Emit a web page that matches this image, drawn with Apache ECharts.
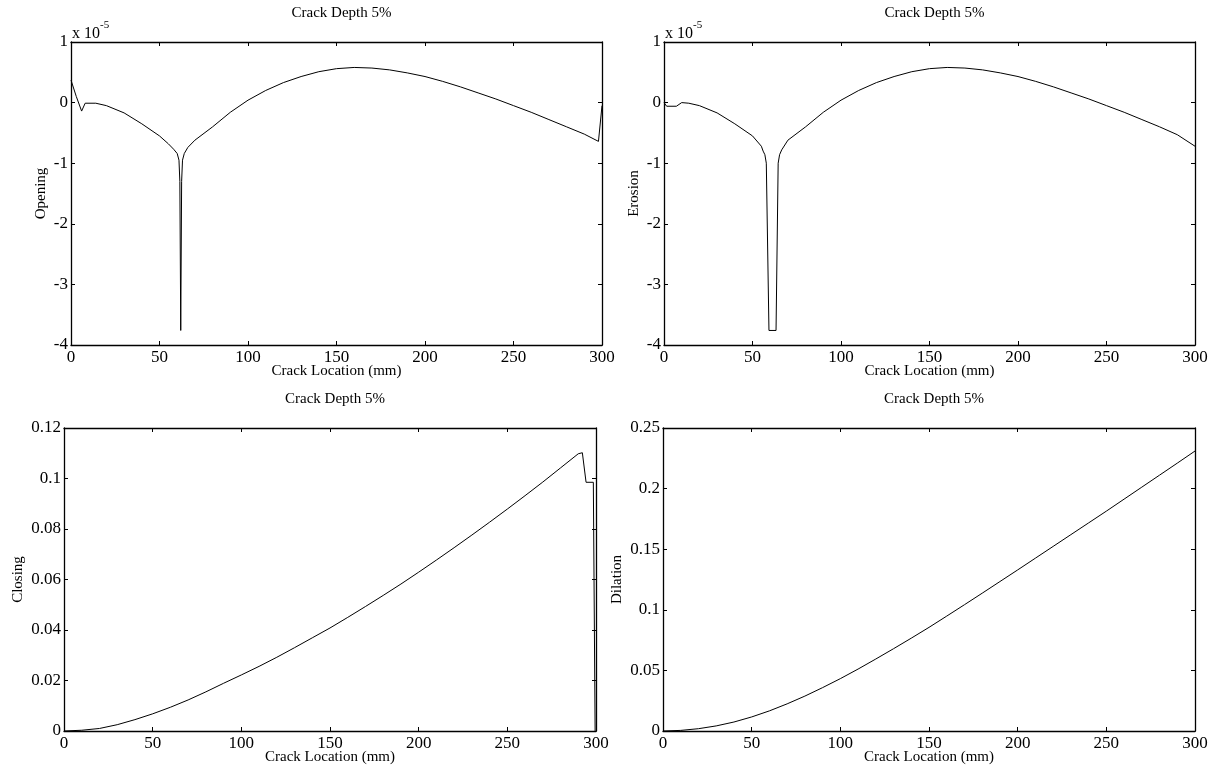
<!DOCTYPE html>
<html><head><meta charset="utf-8">
<script src="https://cdn.jsdelivr.net/npm/echarts@6/dist/echarts.min.js"></script>
<style>html,body{margin:0;padding:0;background:#fff}#c{width:1211px;height:769px}</style>
</head><body><div id="c"></div>
<script>
// Opening (x 1e-5)
const openingX = [0,3,6,8,14,20,30,40,50,55,58,60,61,61.5,62,62.5,63,64,66,70,80,90,100,110,120,130,140,150,160,170,180,190,200,210,220,230,240,250,260,270,280,290,298,300];
const openingY = [0.37,0.1,-0.14,-0.01,-0.01,-0.05,-0.17,-0.35,-0.55,-0.68,-0.77,-0.84,-0.95,-1.3,-3.76,-1.3,-0.95,-0.84,-0.74,-0.62,-0.4,-0.16,0.04,0.2,0.33,0.43,0.51,0.56,0.58,0.57,0.54,0.49,0.43,0.35,0.26,0.16,0.06,-0.05,-0.16,-0.28,-0.40,-0.52,-0.64,-0.05];
// Erosion (x 1e-5)
const erosionX = [0,1.5,7,10,14,20,30,40,50,55,56,57,57.8,59.3,63.3,64.5,65.3,66.5,70,80,90,100,110,120,130,140,150,160,170,180,190,200,210,220,230,240,250,260,270,280,290,300];
const erosionY = [0,-0.06,-0.06,0,-0.01,-0.05,-0.17,-0.35,-0.55,-0.72,-0.8,-0.86,-1.0,-3.76,-3.76,-1.0,-0.86,-0.78,-0.62,-0.4,-0.16,0.04,0.2,0.33,0.43,0.51,0.56,0.58,0.57,0.54,0.49,0.43,0.35,0.26,0.16,0.06,-0.05,-0.16,-0.28,-0.40,-0.53,-0.72];
// Closing
const closingX = [0,10,20,30,40,50,60,70,80,90,100,110,120,130,140,150,160,170,180,190,200,210,220,230,240,250,260,270,280,290,292.3,294.4,298.5,299.5];
const closingY = [0,0.0003,0.001,0.0025,0.0045,0.0068,0.0094,0.0123,0.0155,0.0189,0.0222,0.0256,0.0292,0.033,0.0369,0.0408,0.045,0.0493,0.0537,0.0582,0.0629,0.0677,0.0726,0.0776,0.0827,0.0879,0.0932,0.0986,0.1042,0.1098,0.1102,0.0985,0.0985,0];
// Dilation
const dilationX = [0,10,20,30,40,50,60,70,80,90,100,110,120,130,140,150,160,170,180,190,200,210,220,230,240,250,260,270,280,290,300];
const dilationY = [0,0.0005,0.0019,0.0042,0.0074,0.0116,0.0166,0.0224,0.0288,0.0358,0.0432,0.0511,0.0594,0.0679,0.0766,0.0855,0.0948,0.1042,0.1137,0.1233,0.1329,0.1426,0.1523,0.162,0.1717,0.1814,0.1913,0.2012,0.2111,0.221,0.231];
const xTicks = [0,50,100,150,200,250,300];
const titles = ['Crack Depth 5%','Crack Depth 5%','Crack Depth 5%','Crack Depth 5%'];
const yNames = ['Opening','Erosion','Closing','Dilation'];
const xName = 'Crack Location (mm)';

const pair = (xs, ys) => xs.map((x, i) => [x, ys[i]]);
const FONT = 'Liberation Serif';
const grids = [
  {left:71, top:42, width:531, height:303},
  {left:664, top:42, width:531, height:303},
  {left:64, top:428, width:532, height:303},
  {left:663, top:428, width:532, height:303}
];
const yRanges = [[-4,1,1],[-4,1,1],[0,0.12,0.02],[0,0.25,0.05]];
const yGaps = [22,22,38,38];
const axLine = {show:true, onZero:false, lineStyle:{color:'#000', width:1.3}};
const tick = {show:true, inside:true, length:4, lineStyle:{color:'#000', width:1}};
const lab = {color:'#000', fontFamily:FONT, fontSize:17};
let xAxis = [], yAxis = [], series = [];
grids.forEach((g, i) => {
  xAxis.push({type:'value', gridIndex:i, position:'bottom', min:0, max:300, interval:50,
    axisLine:axLine, axisTick:tick, splitLine:{show:false}, axisLabel:{...lab, margin:4},
    name:xName, nameLocation:'middle', nameGap:19, nameMoveOverlap:false, nameTextStyle:{color:'#000', fontFamily:FONT, fontSize:15}});
  xAxis.push({type:'value', gridIndex:i, position:'top', min:0, max:300, interval:50,
    axisLine:axLine, axisTick:tick, splitLine:{show:false}, axisLabel:{show:false}});
  const r = yRanges[i];
  yAxis.push({type:'value', gridIndex:i, position:'left', min:r[0], max:r[1], interval:r[2],
    axisLine:axLine, axisTick:tick, splitLine:{show:false}, axisLabel:{...lab, margin:3},
    name:yNames[i], nameLocation:'middle', nameGap:yGaps[i], nameMoveOverlap:false, nameTextStyle:{color:'#000', fontFamily:FONT, fontSize:15}});
  yAxis.push({type:'value', gridIndex:i, position:'right', min:r[0], max:r[1], interval:r[2],
    axisLine:axLine, axisTick:tick, splitLine:{show:false}, axisLabel:{show:false}});
});
const datas = [pair(openingX, openingY), pair(erosionX, erosionY), pair(closingX, closingY), pair(dilationX, dilationY)];
datas.forEach((d, i) => {
  series.push({type:'line', xAxisIndex:2*i, yAxisIndex:2*i, data:d, showSymbol:false, symbol:'none',
    lineStyle:{color:'#000', width:1}, animation:false});
});
const title = grids.map((g, i) => ({text:titles[i], left:g.left + g.width/2, top: g.top - 41, textAlign:'center',
  textStyle:{color:'#000', fontFamily:FONT, fontSize:15, fontWeight:'normal'}}));
const expo = [0,1].map(i => ({type:'text', left:grids[i].left + 1, top:20,
  style:{text:'{a|x 10}{b|-5}', rich:{a:{fontFamily:FONT, fontSize:16, fill:'#000', padding:[6,0,0,0]}, b:{fontFamily:FONT, fontSize:11, fill:'#000', verticalAlign:'top'}}}}));
const chart = echarts.init(document.getElementById('c'), null, {renderer:'canvas'});
chart.setOption({animation:false, backgroundColor:'#fff', title, grid:grids, xAxis, yAxis, series, graphic:expo});
</script></body></html>
